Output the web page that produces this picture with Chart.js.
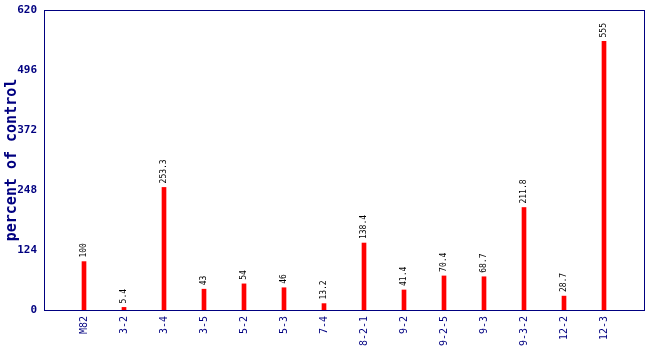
<!DOCTYPE html>
<html>
<head>
<meta charset="utf-8">
<script src="https://cdn.jsdelivr.net/npm/chart.js@4"></script>
<style>
	html, body { margin: 0; padding: 0; background: #ffffff; }
	#wrap { width: 650px; height: 350px; }
</style>
</head>
<body>
<div id="wrap"><canvas id="myChart" width="650" height="350"></canvas></div>
<script>
// sample names and measured percent of control
var samples = ["M82", "3-2", "3-4", "3-5", "5-2", "5-3", "7-4", "8-2-1", "9-2", "9-2-5", "9-3", "9-3-2", "12-2", "12-3"];
var percents = [100, 5.4, 253.3, 43, 54, 46, 13.2, 138.4, 41.4, 70.4, 68.7, 211.8, 28.7, 555];
var yTicks = [0, 124, 248, 372, 496, 620];

var navy = "#000080";
var mono = "'DejaVu Sans Mono', monospace";

// one empty slot on each side so the bars sit 40px apart
var labels = [""].concat(samples, [""]);
var values = [null].concat(percents, [null]);

// frame around the plot
var frame = {
	id: "frame",
	afterDraw: function (chart) {
		var a = chart.chartArea, ctx = chart.ctx;
		ctx.save();
		ctx.strokeStyle = navy;
		ctx.lineWidth = 1;
		ctx.strokeRect(a.left + 0.5, a.top + 0.5, a.right - a.left, a.bottom - a.top);
		ctx.restore();
	}
};

// value printed upright above each bar
var valueLabels = {
	id: "valueLabels",
	afterDatasetsDraw: function (chart) {
		var ctx = chart.ctx;
		var meta = chart.getDatasetMeta(0);
		ctx.save();
		ctx.fillStyle = "#000000";
		ctx.font = "8px " + mono;
		ctx.textAlign = "left";
		ctx.textBaseline = "middle";
		meta.data.forEach(function (bar, i) {
			var v = values[i];
			if (v === null) return;
			ctx.save();
			ctx.translate(bar.x, bar.y - 4);
			ctx.rotate(-Math.PI / 2);
			ctx.fillText(String(v), 0, 0);
			ctx.restore();
		});
		ctx.restore();
	}
};

var ctx = document.getElementById("myChart").getContext("2d");
var myChart = new Chart(ctx, {
	type: "bar",
	data: {
		labels: labels,
		datasets: [
			{
				data: values,
				backgroundColor: "#ff0000",
				borderWidth: 0,
				barThickness: 4,
			},
		],
	},
	options: {
		responsive: false,
		animation: false,
		events: [],
		layout: { padding: { top: 10, right: 6, left: 0, bottom: 0 } },
		plugins: {
			legend: { display: false },
			tooltip: { enabled: false },
		},
		scales: {
			x: {
				offset: false,
				grid: { display: false, drawTicks: false },
				border: { display: false },
				ticks: {
					color: navy,
					font: { family: mono, size: 10 },
					maxRotation: 90,
					minRotation: 90,
					autoSkip: false,
					padding: 6,
				},
				afterFit: function (scale) {
					scale.height = 40;
					scale.paddingLeft = 0;
					scale.paddingRight = 0;
				},
			},
			y: {
				min: 0,
				max: 620,
				afterBuildTicks: function (scale) {
					scale.ticks = yTicks.map(function (v) { return { value: v }; });
				},
				grid: { display: false, drawOnChartArea: false, drawTicks: true, tickLength: 5, tickColor: navy },
				border: { display: false },
				ticks: {
					color: navy,
					font: { family: mono, size: 11, weight: "bold" },
					padding: 2,
				},
				title: {
					display: true,
					text: "percent of control",
					color: navy,
					font: { family: mono, size: 15, weight: "bold" },
					padding: { top: 3, bottom: 0 },
				},
				afterFit: function (scale) {
					scale.width = 44;
					scale.paddingTop = 0;
					scale.paddingBottom = 0;
				},
			},
		},
	},
	plugins: [frame, valueLabels],
});
</script>
</body>
</html>
